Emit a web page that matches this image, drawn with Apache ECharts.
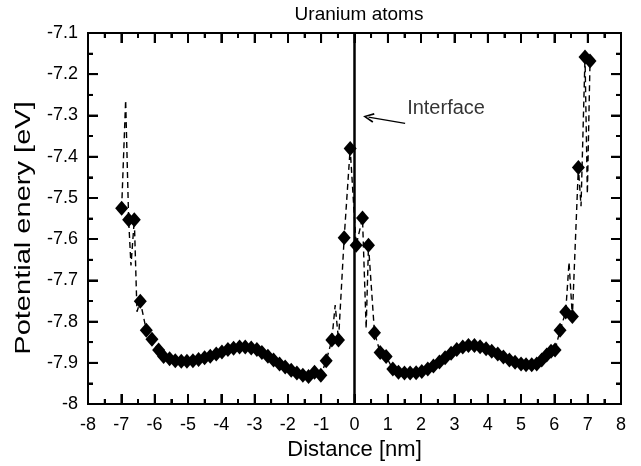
<!DOCTYPE html>
<html>
<head>
<meta charset="utf-8">
<script src="https://cdn.jsdelivr.net/npm/echarts@6/dist/echarts.min.js"></script>
<style>
  html, body { margin: 0; padding: 0; background: #fff; }
  #chart { width: 641px; height: 466px; }
</style>
</head>
<body>
<div id="chart"></div>
<script>
// Diamond markers: uranium atom positions and their potential energies
const markerX = [-6.99, -6.78, -6.61, -6.43, -6.25, -6.08, -5.88, -5.73, -5.55, -5.38,
  -5.20, -5.03, -4.85, -4.68, -4.50, -4.33, -4.15, -3.98, -3.80, -3.63,
  -3.45, -3.28, -3.10, -2.93, -2.78, -2.60, -2.43, -2.25, -2.08, -1.90,
  -1.73, -1.55, -1.38, -1.20, -1.01, -0.85, -0.68, -0.48, -0.31, -0.13,
  0.05, 0.24, 0.42, 0.60, 0.77, 0.95, 1.15, 1.32, 1.50, 1.67,
  1.85, 2.02, 2.20, 2.37, 2.55, 2.72, 2.90, 3.07, 3.25, 3.42,
  3.60, 3.77, 3.95, 4.12, 4.30, 4.47, 4.65, 4.82, 5.00, 5.15,
  5.32, 5.47, 5.62, 5.77, 5.90, 6.02, 6.17, 6.34, 6.54, 6.72,
  6.92, 7.07];
const markerY = [-7.525, -7.553, -7.553, -7.751, -7.821, -7.843, -7.869, -7.885, -7.890, -7.895,
  -7.896, -7.896, -7.895, -7.892, -7.888, -7.884, -7.879, -7.874, -7.868, -7.865,
  -7.862, -7.862, -7.864, -7.868, -7.875, -7.884, -7.893, -7.903, -7.910, -7.918,
  -7.925, -7.930, -7.933, -7.923, -7.930, -7.895, -7.845, -7.845, -7.597, -7.380,
  -7.615, -7.549, -7.615, -7.827, -7.875, -7.885, -7.915, -7.923, -7.925, -7.925,
  -7.924, -7.921, -7.915, -7.908, -7.898, -7.888, -7.877, -7.868, -7.862, -7.858,
  -7.858, -7.861, -7.866, -7.872, -7.879, -7.886, -7.893, -7.899, -7.903, -7.905,
  -7.905, -7.903, -7.893, -7.881, -7.872, -7.869, -7.821, -7.777, -7.788, -7.426,
  -7.158, -7.168];

// Dashed profile (includes the sharper excursions between markers)
const lineX = [-6.99, -6.87, -6.78, -6.71, -6.61, -6.53, -6.43, -6.25, -6.08, -5.88,
  -5.73, -5.55, -5.38, -5.20, -5.03, -4.85, -4.68, -4.50, -4.33, -4.15,
  -3.98, -3.80, -3.63, -3.45, -3.28, -3.10, -2.93, -2.78, -2.60, -2.43,
  -2.25, -2.08, -1.90, -1.73, -1.55, -1.38, -1.20, -1.01, -0.85, -0.68,
  -0.58, -0.48, -0.31, -0.13, 0.05, 0.24, 0.35, 0.42, 0.60, 0.77,
  0.95, 1.15, 1.32, 1.50, 1.67, 1.85, 2.02, 2.20, 2.37, 2.55,
  2.72, 2.90, 3.07, 3.25, 3.42, 3.60, 3.77, 3.95, 4.12, 4.30,
  4.47, 4.65, 4.82, 5.00, 5.15, 5.32, 5.47, 5.62, 5.77, 5.90,
  6.02, 6.17, 6.34, 6.44, 6.54, 6.72, 6.80, 6.92, 6.99, 7.07];
const lineY = [-7.525, -7.263, -7.553, -7.664, -7.553, -7.776, -7.751, -7.821, -7.843, -7.869,
  -7.885, -7.890, -7.895, -7.896, -7.896, -7.895, -7.892, -7.888, -7.884, -7.879,
  -7.874, -7.868, -7.865, -7.862, -7.862, -7.864, -7.868, -7.875, -7.884, -7.893,
  -7.903, -7.910, -7.918, -7.925, -7.930, -7.933, -7.923, -7.930, -7.895, -7.845,
  -7.760, -7.845, -7.597, -7.380, -7.615, -7.549, -7.817, -7.615, -7.827, -7.875,
  -7.885, -7.915, -7.923, -7.925, -7.925, -7.924, -7.921, -7.915, -7.908, -7.898,
  -7.888, -7.877, -7.868, -7.862, -7.858, -7.858, -7.861, -7.866, -7.872, -7.879,
  -7.886, -7.893, -7.899, -7.903, -7.905, -7.905, -7.903, -7.893, -7.881, -7.872,
  -7.869, -7.821, -7.777, -7.656, -7.788, -7.426, -7.520, -7.158, -7.490, -7.168];

// Axis ranges and tick positions of the boxed frame
const xRange = [-8, 8];
const yRange = [-8, -7.1];
const xMajorTicks = [-8, -7, -6, -5, -4, -3, -2, -1, 0, 1, 2, 3, 4, 5, 6, 7, 8];
const xMinorTicks = [-7.5, -6.5, -5.5, -4.5, -3.5, -2.5, -1.5, -0.5, 0.5, 1.5, 2.5, 3.5, 4.5, 5.5, 6.5, 7.5];
const yMajorTicks = [-8, -7.9, -7.8, -7.7, -7.6, -7.5, -7.4, -7.3, -7.2, -7.1];
const yMinorTicks = [-7.95, -7.85, -7.75, -7.65, -7.55, -7.45, -7.35, -7.25, -7.15];

// Interface position and its annotation
const interfaceX = 0;
const arrowTail = [1.52, -7.319];
const arrowTip = [0.42, -7.304];
const labelAt = [1.58, -7.284];
const labelText = 'Interface';

const FONT = '"Liberation Sans", Arial, sans-serif';
const MAJOR_LEN = 10;
const MINOR_LEN = 5;

const chart = echarts.init(document.getElementById('chart'));

// One side of the boxed frame
function frameAxis(extra) {
  const base = {
    type: 'value',
    axisLine: { show: true, onZero: false, lineStyle: { color: '#000', width: 2 } },
    axisTick: { show: true, inside: true, length: MAJOR_LEN, lineStyle: { color: '#000', width: 2 } },
    minorTick: { show: true, splitNumber: 2, length: MINOR_LEN, lineStyle: { color: '#000', width: 2 } },
    splitLine: { show: false },
    axisLabel: { show: false }
  };
  return Object.assign(base, extra);
}

// Tick records for the frame: [x, y, isXTick, isMajor]
const tickData = []
  .concat(xMajorTicks.map(v => [v, yRange[0], 1, 1]))
  .concat(xMinorTicks.map(v => [v, yRange[0], 1, 0]))
  .concat(yMajorTicks.map(v => [xRange[0], v, 0, 1]))
  .concat(yMinorTicks.map(v => [xRange[0], v, 0, 0]));

// Draws each tick inward from both opposite sides of the frame
function renderTick(params, api) {
  const isX = api.value(2) === 1;
  const len = api.value(3) === 1 ? MAJOR_LEN : MINOR_LEN;
  const st = { stroke: '#000', lineWidth: 1.8 };
  if (isX) {
    const v = api.value(0);
    const b = api.coord([v, yRange[0]]);
    const t = api.coord([v, yRange[1]]);
    return { type: 'group', children: [
      { type: 'line', shape: { x1: b[0], y1: b[1], x2: b[0], y2: b[1] - len }, style: st },
      { type: 'line', shape: { x1: t[0], y1: t[1], x2: t[0], y2: t[1] + len }, style: st }
    ] };
  }
  const v = api.value(1);
  const l = api.coord([xRange[0], v]);
  const r = api.coord([xRange[1], v]);
  return { type: 'group', children: [
    { type: 'line', shape: { x1: l[0], y1: l[1], x2: l[0] + len, y2: l[1] }, style: st },
    { type: 'line', shape: { x1: r[0], y1: r[1], x2: r[0] - len, y2: r[1] }, style: st }
  ] };
}

const tickFont = { color: '#000', fontFamily: FONT, fontSize: 18 };

chart.setOption({
  animation: false,
  backgroundColor: '#fff',
  title: {
    text: 'Uranium atoms',
    left: 354, top: 0, textAlign: 'center',
    textStyle: { color: '#000', fontFamily: FONT, fontSize: 19, fontWeight: 'normal' }
  },
  grid: { left: 88, right: 20, top: 33, bottom: 60, show: true, borderColor: '#000', borderWidth: 2, backgroundColor: 'transparent' },
  xAxis: [
    frameAxis({
      min: xRange[0], max: xRange[1], interval: 1,
      axisLabel: Object.assign({ show: true, margin: 12 }, tickFont),
      name: 'Distance [nm]', nameLocation: 'middle', nameGap: 35,
      nameTextStyle: { color: '#000', fontFamily: FONT, fontSize: 22 }
    }),
    frameAxis({ position: 'top', min: xRange[0], max: xRange[1], interval: 1 })
  ],
  yAxis: [
    frameAxis({
      min: yRange[0], max: yRange[1], interval: 0.1,
      axisLabel: Object.assign({ show: true, margin: 10,
        formatter: v => (Math.round(v * 10) / 10).toString() }, tickFont)
    }),
    frameAxis({ position: 'right', min: yRange[0], max: yRange[1], interval: 0.1 })
  ],
  graphic: [{
    type: 'text',
    x: 24, y: 228,
    rotation: Math.PI / 2,
    scaleX: 1.32,
    style: {
      text: 'Potential enery [eV]',
      fill: '#000', font: '22px ' + FONT,
      align: 'center', verticalAlign: 'middle'
    }
  }],
  series: [
    {
      name: 'frame ticks',
      type: 'custom',
      data: tickData,
      renderItem: renderTick,
      clip: false,
      silent: true,
      z: 6
    },
    {
      name: 'profile',
      type: 'line',
      data: lineX.map((x, i) => [x, lineY[i]]),
      showSymbol: false,
      symbol: 'none',
      lineStyle: { color: '#000', width: 1.4, type: [6, 4] },
      z: 2
    },
    {
      name: 'atoms',
      type: 'scatter',
      data: markerX.map((x, i) => [x, markerY[i]]),
      symbol: 'diamond',
      symbolSize: [13, 15],
      itemStyle: { color: '#000', opacity: 1 },
      z: 3
    },
    {
      name: 'interface',
      type: 'line',
      data: [[interfaceX, yRange[0]], [interfaceX, yRange[1]]],
      symbol: 'none',
      lineStyle: { color: '#000', width: 2.5 },
      z: 4,
      markLine: {
        silent: true,
        symbol: ['none', 'path://M5,0 L10,11 L8.4,11.8 L5,3.6 L1.6,11.8 L0,11 Z'],
        symbolSize: [10, 11],
        label: { show: false },
        lineStyle: { color: '#000', width: 1.3, type: 'solid' },
        data: [[{ coord: arrowTail }, { coord: arrowTip }]]
      }
    },
    {
      name: 'label',
      type: 'scatter',
      data: [labelAt],
      symbolSize: 0,
      label: {
        show: true, position: 'right', distance: 0,
        formatter: labelText,
        color: '#000', fontFamily: FONT, fontSize: 20
      }
    }
  ]
});
</script>
</body>
</html>
